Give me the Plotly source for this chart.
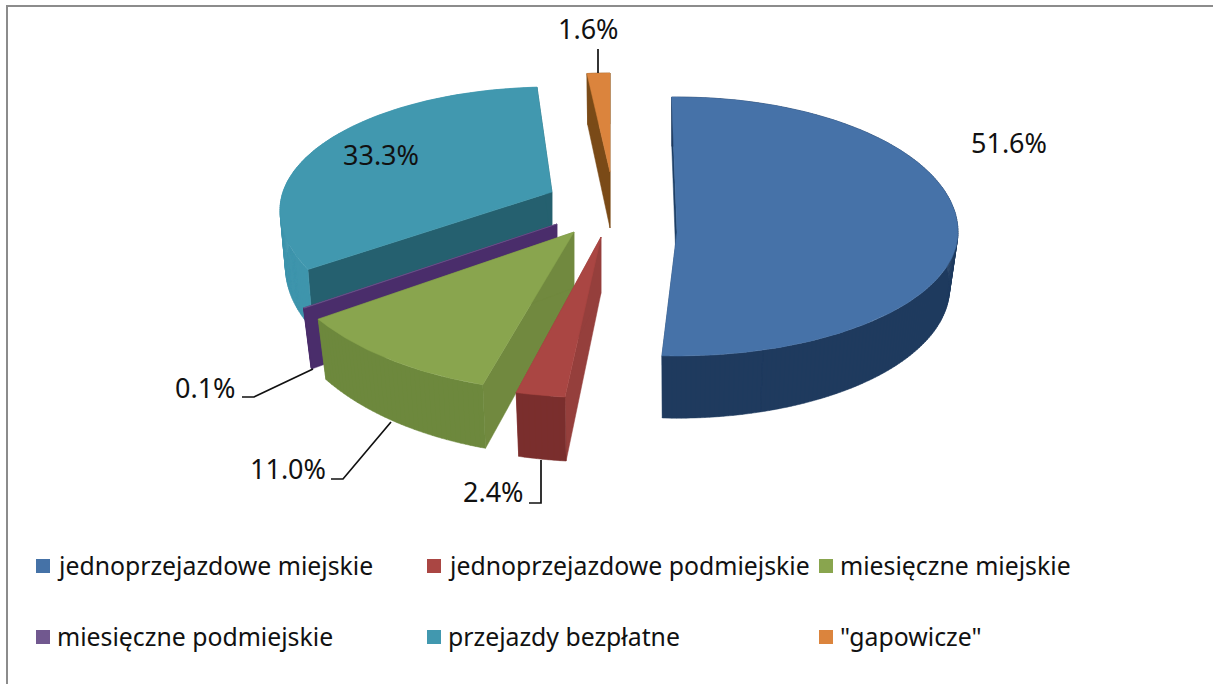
import math
import plotly.graph_objects as go

# ---- data ----
categories = ["jednoprzejazdowe miejskie", "jednoprzejazdowe podmiejskie", "miesięczne miejskie",
              "miesięczne podmiejskie", "przejazdy bezpłatne", '"gapowicze"']
shares = [51.6, 2.4, 11.0, 0.1, 33.3, 1.6]

# ---- styles ----
top_colors = ["#4672A8", "#AA4643", "#89A54E", "#71588F", "#4198AF", "#DB843D"]
outer_colors = ["#1F3A5E", "#7A2E2D", "#6D883D", "#4A2D6B", "#3E95AC", "#7A4A17"]
radial_colors = ["#1D3F66", "#953F3C", "#71893F", "#4A2D6B", "#25606F", "#7A4A17"]
legend_colors = ["#4572A7", "#AA4643", "#89A54E", "#71588F", "#4198AF", "#DB843D"]
FONT = "Noto Sans"
FS_LABEL = 27
FS_LEGEND = 24.8

# Projection of each exploded slice on the page (pixels), as the 3-D pie's perspective has it
apex = [(677, 232), (601, 237), (574, 232), (557, 224), (552, 192), (610, 172)]
rx = [281, 330, 305, 312, 272, 230]
ry_back = [135, 161, 160, 144, 123, 99]
ry_front = [124, 161, 160, 144, 135, 99]
y_off = [0, 0, 0, 0, 18, 0]
ang_shift = [-1.1, 0.5, 3.0, 0.0, 9.44, 0.0]
ang_scale = [0.9915, 1.0, 1.0, 1.0, 0.943, 1.0]
bot_x = [0.97, 0.97, 0.97, 0.97, 0.98, 0.97]
DEPTH, BOT_Y = 56, 1.05
draw_order = [5, 4, 3, 2, 0, 1]

fig = go.Figure()


def poly(pieces, color, name):
    xs, ys = [], []
    for pts in pieces:
        xs += [p[0] for p in pts] + [pts[0][0], None]
        ys += [p[1] for p in pts] + [pts[0][1], None]
    fig.add_trace(go.Scatter(x=xs, y=ys, mode="lines", fill="toself", fillcolor=color,
                             line=dict(color=color, width=0.5), name=name,
                             showlegend=False, hoverinfo="skip"))


starts = []
acc = 0.0
for s in shares:
    starts.append(acc)
    acc += s

for i in draw_order:
    a0 = starts[i] * 3.6
    span = shares[i] * 3.6
    ax, ay = apex[i]
    n = max(4, int(span))
    rel = []
    for k in range(n + 1):
        a = a0 + ang_shift[i] + span * ang_scale[i] * k / n
        t = math.radians(a)
        c = math.cos(t)
        ry = ry_back[i] if c > 0 else ry_front[i]
        rel.append((rx[i] * math.sin(t), y_off[i] - ry * c))
    rim = [(ax + x, ay + y) for x, y in rel]
    bot = [(ax + x * bot_x[i], ay + DEPTH + y * BOT_Y) for x, y in rel]
    apex_b = (ax, ay + DEPTH)
    name = categories[i]
    poly([[(ax, ay), apex_b, bot[0], rim[0]]], radial_colors[i], name)
    poly([[(ax, ay), apex_b, bot[-1], rim[-1]]], radial_colors[i], name)
    poly([[rim[k], rim[k + 1], bot[k + 1], bot[k]] for k in range(n)], outer_colors[i], name)
    poly([[(ax, ay)] + rim], top_colors[i], name)

# ---- value labels ----
label_pos = [(1009, 142), (493, 491), (288, 468), (205, 387), (381, 154), (588, 28)]
annotations = []
for s, (x, y) in zip(shares, label_pos):
    annotations.append(dict(x=x, y=y, xref="x", yref="y", text=f"{s:.1f}%", showarrow=False,
                            xanchor="center", yanchor="middle",
                            font=dict(family=FONT, size=FS_LABEL, color="#111111")))

# ---- leader lines ----
leaders = ["M598 49 L598 73", "M242 397 L254 397 L313 369", "M331 479 L343 479 L391 422", "M529 503 L541 503 L541 460"]
shapes = [dict(type="path", path=p, xref="x", yref="y", line=dict(color="#111111", width=1.7)) for p in leaders]

# ---- frame ----
shapes.append(dict(type="path", path="M7 684 L7 6 L1213 6", xref="x", yref="y",
                   line=dict(color="#8C8C8C", width=2)))

# ---- legend ----
legend_slots = [(36, 566), (427, 566), (819, 566), (36, 637), (427, 637), (819, 637)]
for name, col, (x, y) in zip(categories, legend_colors, legend_slots):
    shapes.append(dict(type="rect", x0=x, x1=x + 14, y0=y - 7, y1=y + 7, xref="x", yref="y",
                       fillcolor=col, line=dict(width=0)))
    annotations.append(dict(x=x + 19, y=y - 1, xref="x", yref="y", text=name, showarrow=False,
                            xanchor="left", yanchor="middle",
                            font=dict(family=FONT, size=FS_LEGEND, color="#111111")))

fig.update_layout(width=1213, height=684, margin=dict(l=0, r=0, t=0, b=0),
                  paper_bgcolor="white", plot_bgcolor="white", showlegend=False,
                  xaxis=dict(range=[0, 1213], visible=False, fixedrange=True),
                  yaxis=dict(range=[684, 0], visible=False, fixedrange=True),
                  annotations=annotations, shapes=shapes)
fig.write_html("out.html", config={"displayModeBar": False},
               post_script="document.body.style.margin='0';document.documentElement.style.overflow='hidden';")
